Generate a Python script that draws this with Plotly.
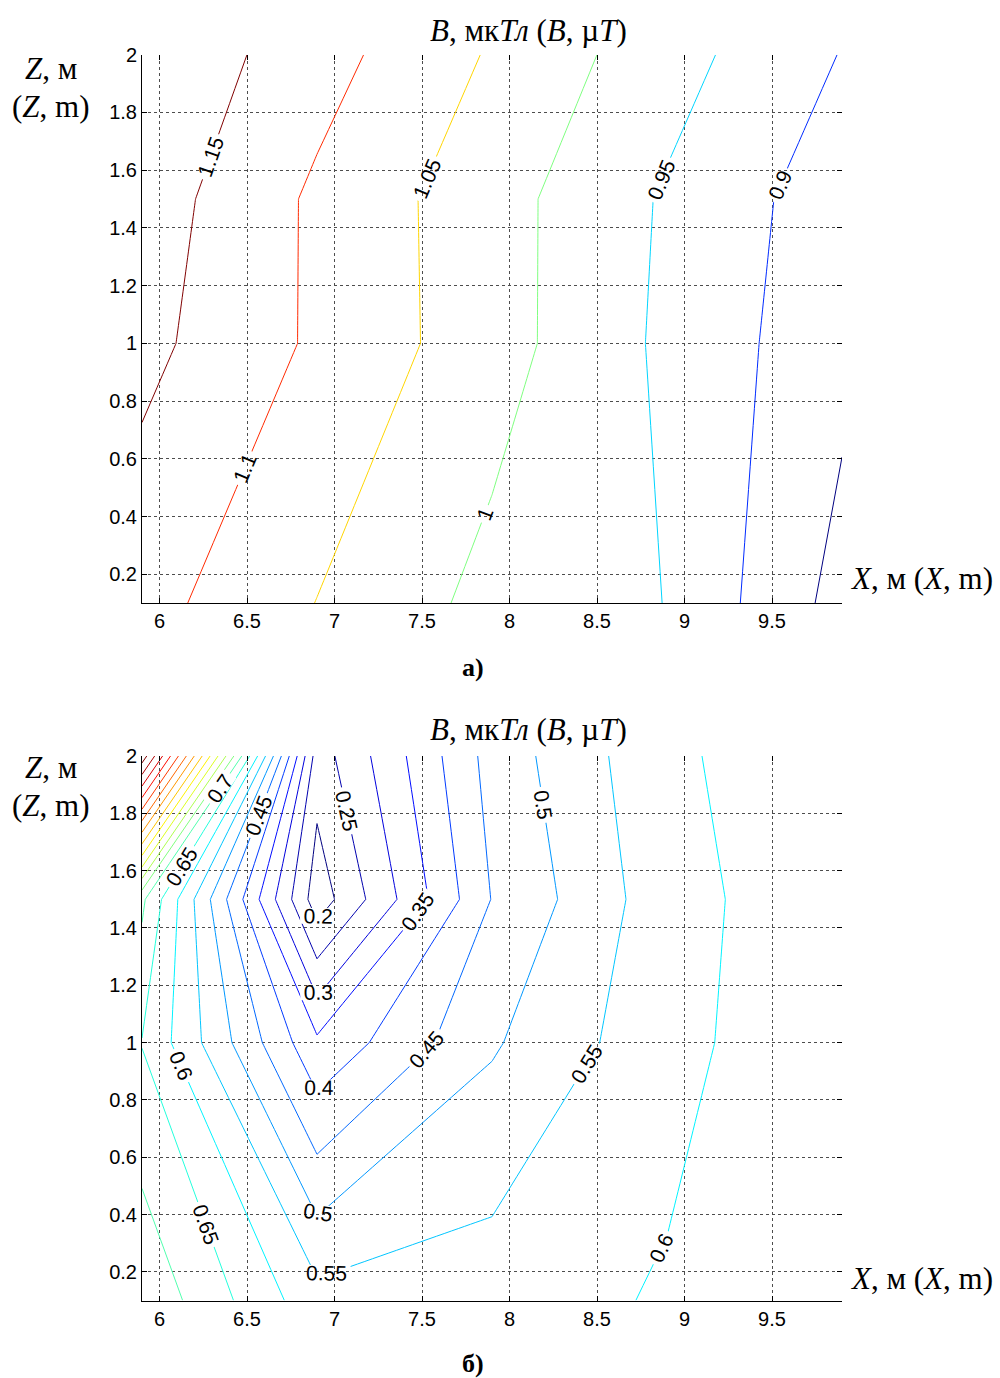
import plotly.graph_objects as go

W, H = 1000, 1378

# ---------------- data ----------------
X_NODES = [5.9, 6.9, 7.9, 8.9, 9.9]
Z_NODES = [0.1, 1.0, 1.5, 2.0]

# panel a) B, uT at grid nodes (rows = Z_NODES, cols = X_NODES)
B_TOP_Z01 = [1.118, 1.049, 0.985, 0.949, 0.832]
B_TOP_Z10 = [1.164, 1.092, 1.021, 0.940, 0.864]
B_TOP_Z15 = [1.176, 1.091, 1.020, 0.944, 0.872]
B_TOP_Z20 = [1.195, 1.120, 1.045, 0.970, 0.898]

# panel б)
B_BOT_Z01 = [0.740, 0.568, 0.577, 0.605, 0.630]
B_BOT_Z10 = [0.648, 0.360, 0.494, 0.585, 0.640]
B_BOT_Z15 = [0.710, 0.172, 0.452, 0.580, 0.640]
B_BOT_Z20 = [1.330, 0.225, 0.470, 0.590, 0.640]

TOP_LEVELS = dict(start=0.85, end=1.15, size=0.05)
BOT_LEVELS = dict(start=0.20, end=1.30, size=0.05)

X_TICKS = [6, 6.5, 7, 7.5, 8, 8.5, 9, 9.5]
X_TICKTEXT = ["6", "6.5", "7", "7.5", "8", "8.5", "9", "9.5"]
Z_TICKS = [0.2, 0.4, 0.6, 0.8, 1.0, 1.2, 1.4, 1.6, 1.8, 2.0]
Z_TICKTEXT = ["0.2", "0.4", "0.6", "0.8", "1", "1.2", "1.4", "1.6", "1.8", "2"]

JET = [[0.0, "#000080"], [0.125, "#0000ff"], [0.375, "#00ffff"],
       [0.625, "#ffff00"], [0.875, "#ff0000"], [1.0, "#800000"]]

TICKFONT = dict(family="Liberation Sans, Arial, sans-serif", size=20, color="black")
SERIF = "Liberation Serif, Times New Roman, serif"

fig = go.Figure()


def add_contour(z, levels, xa, ya):
    fig.add_trace(go.Contour(
        x=X_NODES, y=Z_NODES, z=z,
        xaxis=xa, yaxis=ya,
        autocontour=False,
        contours=dict(start=levels["start"], end=levels["end"], size=levels["size"],
                      coloring="lines", showlabels=True,
                      labelfont=dict(family="Liberation Sans, Arial, sans-serif",
                                     size=21, color="black")),
        colorscale=JET, showscale=False,
        line=dict(width=1, smoothing=0),
        hoverinfo="skip",
    ))


add_contour([B_TOP_Z01, B_TOP_Z10, B_TOP_Z15, B_TOP_Z20], TOP_LEVELS, "x", "y")
add_contour([B_BOT_Z01, B_BOT_Z10, B_BOT_Z15, B_BOT_Z20], BOT_LEVELS, "x2", "y2")

# empty traces to materialise the mirror-tick axes
fig.add_trace(go.Scatter(x=[None], y=[None], xaxis="x3", yaxis="y3", showlegend=False, hoverinfo="skip"))
fig.add_trace(go.Scatter(x=[None], y=[None], xaxis="x4", yaxis="y4", showlegend=False, hoverinfo="skip"))

XL, XR = 142 / W, 842 / W
TOP_DOM = [1 - 597 / H, 1 - 44 / H]
BOT_DOM = [1 - 1300 / H, 1 - 751 / H]

XRANGE = [5.9, 9.9]
ZRANGE = [0.1, 2.0]
GRID = dict(showgrid=True, gridcolor="#4d4d4d", griddash="dot", gridwidth=1)


def xax(anchor):
    return dict(domain=[XL, XR], range=XRANGE, anchor=anchor,
                tickmode="array", tickvals=X_TICKS, ticktext=X_TICKTEXT,
                ticks="inside", ticklen=5, tickcolor="black",
                showline=True, linecolor="black", linewidth=1,
                zeroline=False, tickfont=TICKFONT, fixedrange=True, **GRID)


def yax(anchor, dom):
    return dict(domain=dom, range=ZRANGE, anchor=anchor,
                tickmode="array", tickvals=Z_TICKS, ticktext=Z_TICKTEXT,
                ticks="inside", ticklen=5, tickcolor="black",
                showline=True, linecolor="black", linewidth=1,
                zeroline=False, tickfont=TICKFONT, fixedrange=True, **GRID)


def mirror_x(over, anchor):
    return dict(overlaying=over, side="top", anchor=anchor, range=XRANGE,
                tickmode="array", tickvals=X_TICKS, ticks="inside", ticklen=5,
                tickcolor="black", showticklabels=False, showline=False,
                showgrid=False, zeroline=False, fixedrange=True)


def mirror_y(over, anchor):
    return dict(overlaying=over, side="right", anchor=anchor, range=ZRANGE,
                tickmode="array", tickvals=Z_TICKS, ticks="inside", ticklen=5,
                tickcolor="black", showticklabels=False, showline=False,
                showgrid=False, zeroline=False, fixedrange=True)


def ann(text, px, py, size=31, xanchor="center"):
    return dict(text=text, x=px / W, y=1 - py / H, xref="paper", yref="paper",
                xanchor=xanchor, yanchor="middle", showarrow=False,
                font=dict(family=SERIF, size=size, color="black"))


title_txt = "<i>B</i>, мк<i>Тл</i> (<i>B</i>, µ<i>T</i>)"
annotations = [
    ann(title_txt, 528, 20),
    ann(title_txt, 528, 724),
    ann("<i>Z</i>, м", 51, 58),
    ann("(<i>Z</i>, m)", 51, 96),
    ann("<i>Z</i>, м", 51, 763),
    ann("(<i>Z</i>, m)", 51, 801),
    ann("<i>X</i>, м (<i>X</i>, m)", 848, 572, xanchor="left"),
    ann("<i>X</i>, м (<i>X</i>, m)", 848, 1278, xanchor="left"),
    ann("<b>а)</b>", 473, 662, size=26),
    ann("<b>б)</b>", 473, 1363, size=26),
]

fig.update_layout(
    width=W, height=H,
    margin=dict(l=0, r=0, t=0, b=0),
    paper_bgcolor="white", plot_bgcolor="white",
    showlegend=False,
    xaxis=xax("y"), yaxis=yax("x", TOP_DOM),
    xaxis2=xax("y2"), yaxis2=yax("x2", BOT_DOM),
    xaxis3=mirror_x("x", "y"), yaxis3=mirror_y("y", "x"),
    xaxis4=mirror_x("x2", "y2"), yaxis4=mirror_y("y2", "x2"),
    annotations=annotations,
)

fig.write_html("out.html", config={"displayModeBar": False},
               post_script="document.body.style.margin='0';document.body.style.padding='0';")
